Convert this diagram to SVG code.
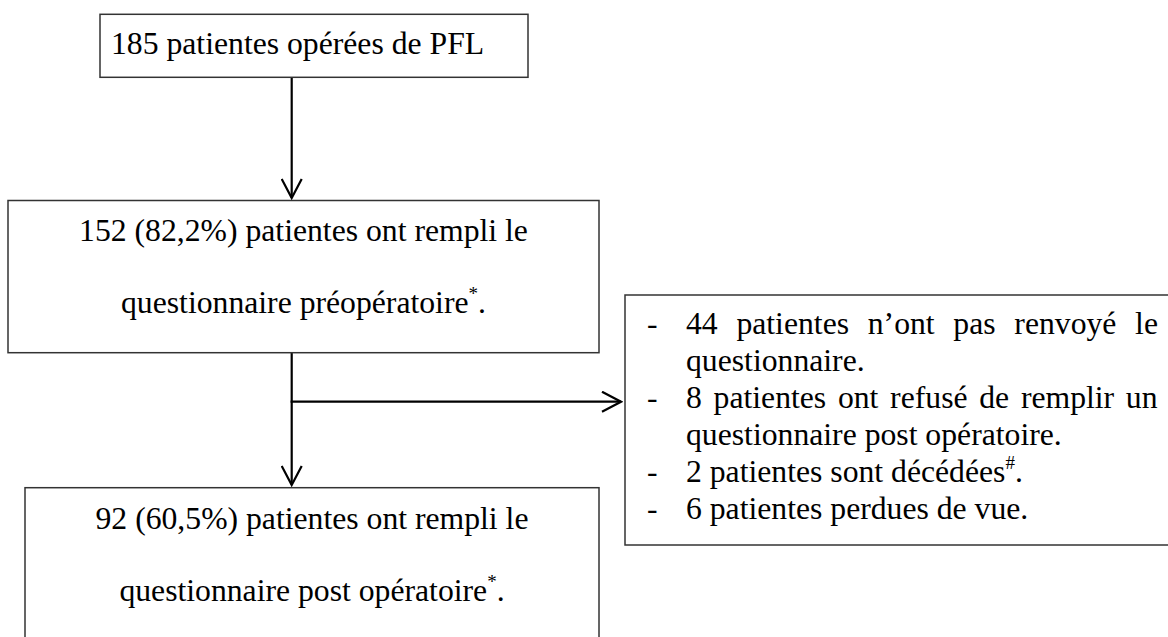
<svg xmlns="http://www.w3.org/2000/svg" width="1168" height="637" viewBox="0 0 1168 637">
<defs>
<style>
.box{fill:#fff;stroke:#333;stroke-width:1.5}
text{font-family:'Times New Roman','Liberation Serif',serif;font-size:31.7px;fill:#000}
.c{stroke:#000;stroke-width:2.2;fill:none}
.sup{font-size:19px}
</style>
<marker id="ah" markerUnits="userSpaceOnUse" viewBox="0 0 22 22" refX="20" refY="11" markerWidth="22" markerHeight="22" orient="auto">
<path d="M1,1 L20,11 L1,21" fill="none" stroke="#000" stroke-width="2.2"/>
</marker>
</defs>
<rect width="1168" height="637" fill="#fff"/>
<g id="connectors">
<line class="c" x1="291.7" y1="78" x2="291.7" y2="198" marker-end="url(#ah)"/>
<line class="c" x1="291.7" y1="353" x2="291.7" y2="485" marker-end="url(#ah)"/>
<line class="c" x1="290.6" y1="401.7" x2="621" y2="401.7" marker-end="url(#ah)"/>
</g>
<g id="n1">
<rect class="box" x="100" y="14.3" width="428" height="63"/>
<text x="111" y="54.3">185 patientes opérées de PFL</text>
</g>
<g id="n2">
<rect class="box" x="8" y="200.5" width="591" height="152.2"/>
<text x="303.5" y="241" text-anchor="middle">152 (82,2%) patientes ont rempli le</text>
<text x="303.5" y="313" text-anchor="middle">questionnaire préopératoire<tspan class="sup" dy="-13">*</tspan><tspan dy="13">.</tspan></text>
</g>
<g id="n3">
<rect class="box" x="25" y="487.7" width="574" height="170"/>
<text x="312" y="528.5" text-anchor="middle">92 (60,5%) patientes ont rempli le</text>
<text x="312" y="600.5" text-anchor="middle">questionnaire post opératoire<tspan class="sup" dy="-13">*</tspan><tspan dy="13">.</tspan></text>
</g>
<g id="n4">
<rect class="box" x="625" y="295" width="560" height="250"/>
<text x="647" y="334">-</text>
<text x="686" y="334" word-spacing="10.8">44 patientes n’ont pas renvoyé le</text>
<text x="686" y="371">questionnaire.</text>
<text x="647" y="408">-</text>
<text x="686" y="408" word-spacing="3.8">8 patientes ont refusé de remplir un</text>
<text x="686" y="445">questionnaire post opératoire.</text>
<text x="647" y="482">-</text>
<text x="686" y="482">2 patientes sont décédées<tspan class="sup" dy="-13">#</tspan><tspan dy="13">.</tspan></text>
<text x="647" y="519">-</text>
<text x="686" y="519">6 patientes perdues de vue.</text>
</g>
</svg>
